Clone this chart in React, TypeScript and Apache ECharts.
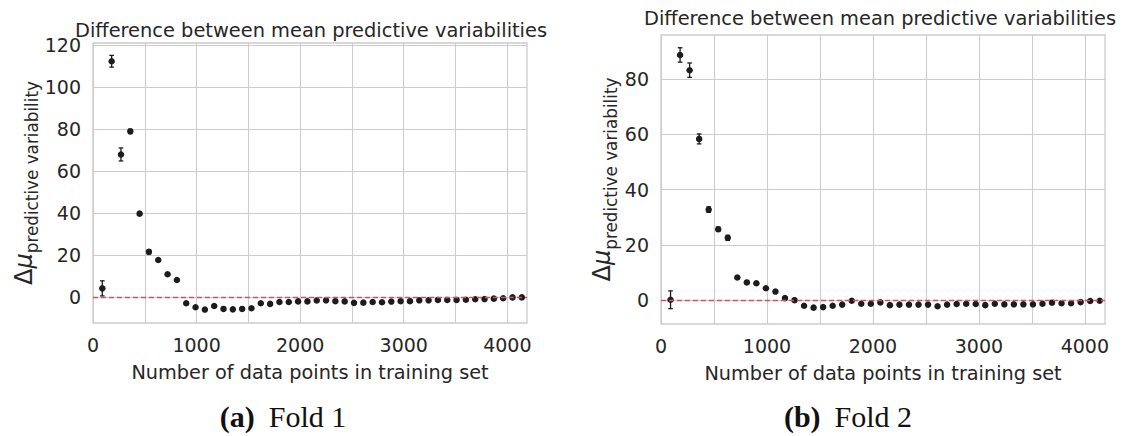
import React, { useEffect, useRef } from 'react';
import * as echarts from 'echarts';

const trainingSizes = [
  90, 180, 270, 360, 450, 540, 630, 720, 810, 900, 990, 1080, 1170, 1260, 1350, 1440,
  1530, 1620, 1710, 1800, 1890, 1980, 2070, 2160, 2250, 2340, 2430, 2520, 2610, 2700,
  2790, 2880, 2970, 3060, 3150, 3240, 3330, 3420, 3510, 3600, 3690, 3780, 3870, 3960,
  4050, 4140,
];

const fold1Mean = [
  4.1, 112.3, 67.9, 78.9, 39.7, 21.5, 17.6, 10.8, 8.1, -3.0, -4.9, -6.0, -4.3, -5.7, -5.9,
  -5.7, -5.4, -3.0, -3.3, -2.4, -2.4, -2.1, -2.1, -1.7, -1.6, -2.0, -2.1, -2.8, -2.7, -2.4,
  -2.5, -2.2, -2.0, -2.0, -1.6, -1.6, -1.4, -1.4, -1.4, -1.3, -1.1, -1.0, -0.8, -0.6, -0.2,
  -0.2,
];
const fold1Err = [
  3.6, 2.8, 3.1, 1.0, 0.6, 1.0, 0.6, 0.5, 0.5, 0.5, 0.4, 0.4, 0.4, 0.4, 0.4, 0.4, 0.4, 0.4,
  0.4, 0.3, 0.3, 0.3, 0.3, 0.3, 0.3, 0.3, 0.3, 0.3, 0.3, 0.3, 0.3, 0.3, 0.3, 0.3, 0.3, 0.3,
  0.3, 0.3, 0.3, 0.3, 0.3, 0.3, 0.3, 0.3, 0.3, 0.3,
];

const fold2Mean = [
  0.25, 88.6, 83.1, 58.3, 32.8, 25.7, 22.6, 8.3, 6.5, 6.2, 4.4, 3.2, 0.85, 0.1, -1.9, -2.6,
  -2.4, -1.9, -1.5, -0.1, -1.2, -1.2, -0.7, -1.7, -1.5, -1.5, -1.5, -1.5, -2.1, -1.5, -1.3,
  -1.2, -1.3, -1.7, -1.2, -1.4, -1.4, -1.4, -1.4, -1.2, -0.8, -1.0, -1.0, -0.6, -0.2, -0.1,
];
const fold2Err = [
  3.2, 2.6, 2.6, 1.8, 1.0, 0.8, 0.9, 0.5, 0.4, 0.4, 0.4, 0.4, 0.4, 0.4, 0.4, 0.4, 0.3, 0.3,
  0.3, 0.3, 0.3, 0.3, 0.3, 0.3, 0.3, 0.3, 0.3, 0.3, 0.3, 0.3, 0.3, 0.3, 0.3, 0.3, 0.3, 0.3,
  0.3, 0.3, 0.3, 0.3, 0.3, 0.3, 0.3, 0.3, 0.3, 0.3,
];

const xTickValues = [0, 500, 1000, 1500, 2000, 2500, 3000, 3500, 4000];
const xLabelValues = [0, 1000, 2000, 3000, 4000];
const y1TickValues = [0, 20, 40, 60, 80, 100, 120];
const y2TickValues = [0, 20, 40, 60, 80];

const chartTitle = 'Difference between mean predictive variabilities';
const xName = 'Number of data points in training set';
const yName = '{a|Δ}{m|μ}{b|predictive variability}';
const captions = [
  { tag: '(a)', text: 'Fold 1' },
  { tag: '(b)', text: 'Fold 2' },
];

const TEXT = '#262626';
const GRIDC = '#cccccc';
const DOT = '#1c1c1c';
const SANS = 'DejaVu Sans';

export default function App() {
  const ref = useRef<HTMLDivElement>(null);
  useEffect(() => {
    document.body.style.margin = '0';
    if (!ref.current) return;
    const chart = echarts.init(ref.current, undefined, { renderer: 'svg' });

    const pts = (means: number[]) => trainingSizes.map((x, i) => [x, means[i]]);
    const errs = (means: number[], e: number[]) =>
      trainingSizes.map((x, i) => [x, means[i] - e[i], means[i] + e[i]]);

    const errRender = (params: any, api: any) => {
      const x = api.value(0);
      const lo = api.coord([x, api.value(1)]);
      const hi = api.coord([x, api.value(2)]);
      const cap = 2.3;
      const style = { stroke: DOT, lineWidth: 1.3 };
      return {
        type: 'group',
        children: [
          { type: 'line', shape: { x1: lo[0], y1: lo[1], x2: hi[0], y2: hi[1] }, style },
          { type: 'line', shape: { x1: lo[0] - cap, y1: lo[1], x2: lo[0] + cap, y2: lo[1] }, style },
          { type: 'line', shape: { x1: hi[0] - cap, y1: hi[1], x2: hi[0] + cap, y2: hi[1] }, style },
        ],
      };
    };

    const plainNum = (v: number) => String(v);

    const xAxis = (gridIndex: number) => ({
      type: 'value',
      gridIndex,
      min: 0,
      max: 4190,
      name: xName,
      nameLocation: 'middle',
      nameGap: 40,
      nameTextStyle: { fontFamily: SANS, fontSize: 19.3, color: TEXT },
      axisLine: { show: false },
      axisTick: { show: false, customValues: xTickValues },
      axisLabel: {
        customValues: xLabelValues,
        formatter: plainNum,
        fontFamily: SANS,
        fontSize: 19,
        color: TEXT,
        margin: 12,
      },
      splitLine: { show: true, lineStyle: { color: GRIDC, width: 1.1 } },
    });

    const yAxis = (gridIndex: number, min: number, max: number, ticks: number[], gap: number) => ({
      type: 'value',
      gridIndex,
      min,
      max,
      name: yName,
      nameLocation: 'middle',
      nameRotate: 90,
      nameGap: gap,
      nameTextStyle: {
        color: TEXT,
        rich: {
          a: { fontFamily: SANS, fontSize: 24, lineHeight: 26, padding: [0, 0, 5, 0], verticalAlign: 'bottom', color: TEXT },
          m: { fontFamily: SANS, fontStyle: 'italic', fontSize: 24, lineHeight: 26, padding: [0, 0, 5, 0], verticalAlign: 'bottom', color: TEXT },
          b: { fontFamily: SANS, fontSize: 16.8, lineHeight: 18, verticalAlign: 'bottom', color: TEXT },
        },
      },
      axisLine: { show: false },
      axisTick: { show: false, customValues: ticks },
      axisLabel: { customValues: ticks, formatter: plainNum, fontFamily: SANS, fontSize: 19, color: TEXT, margin: 12 },
      splitLine: { show: true, lineStyle: { color: GRIDC, width: 1.1 } },
    });

    const zeroLine = () => ({
      silent: true,
      symbol: ['none', 'none'],
      label: { show: false },
      lineStyle: { color: '#d0555a', type: [5, 3], width: 1.3, opacity: 1 },
      data: [{ yAxis: 0 }],
    });

    const caption = (c: { tag: string; text: string }, x: number) => ({
      type: 'text',
      x,
      y: 416,
      style: {
        text: `{t|${c.tag}}{r|${c.text}}`,
        align: 'center',
        verticalAlign: 'middle',
        rich: {
          t: { fontFamily: 'Liberation Serif', fontWeight: 'bold', fontSize: 30, padding: [0, 14, 0, 0], fill: '#111' },
          r: { fontFamily: 'Liberation Serif', fontSize: 30, fill: '#111' },
        },
      },
    });

    chart.setOption({
      animation: false,
      backgroundColor: '#ffffff',
      grid: [
        { left: 93, top: 43, width: 434, height: 280, show: true, borderColor: GRIDC, borderWidth: 1.3, backgroundColor: 'transparent' },
        { left: 661, top: 35, width: 444, height: 289, show: true, borderColor: GRIDC, borderWidth: 1.3, backgroundColor: 'transparent' },
      ],
      xAxis: [xAxis(0), xAxis(1)],
      yAxis: [
        yAxis(0, -12.4, 121, y1TickValues, 50),
        yAxis(1, -8.5, 95.8, y2TickValues, 42),
      ],
      graphic: [
        {
          type: 'text', x: 311, y: 30,
          style: { text: chartTitle, fontFamily: SANS, fontSize: 19.4, fill: TEXT, align: 'center', verticalAlign: 'middle' },
        },
        {
          type: 'text', x: 880, y: 18,
          style: { text: chartTitle, fontFamily: SANS, fontSize: 19.4, fill: TEXT, align: 'center', verticalAlign: 'middle' },
        },
        caption(captions[0], 283),
        caption(captions[1], 848),
      ],
      series: [
        {
          type: 'custom', xAxisIndex: 0, yAxisIndex: 0, renderItem: errRender,
          encode: { x: 0, y: [1, 2] }, data: errs(fold1Mean, fold1Err), z: 3,
        },
        {
          type: 'scatter', xAxisIndex: 0, yAxisIndex: 0, data: pts(fold1Mean),
          symbolSize: 6.5, itemStyle: { color: DOT, opacity: 1 }, z: 4, markLine: zeroLine(),
        },
        {
          type: 'custom', xAxisIndex: 1, yAxisIndex: 1, renderItem: errRender,
          encode: { x: 0, y: [1, 2] }, data: errs(fold2Mean, fold2Err), z: 3,
        },
        {
          type: 'scatter', xAxisIndex: 1, yAxisIndex: 1, data: pts(fold2Mean),
          symbolSize: 6.5, itemStyle: { color: DOT, opacity: 1 }, z: 4, markLine: zeroLine(),
        },
      ],
    });
    return () => chart.dispose();
  }, []);
  return <div ref={ref} style={{ width: 1127, height: 436 }} />;
}
